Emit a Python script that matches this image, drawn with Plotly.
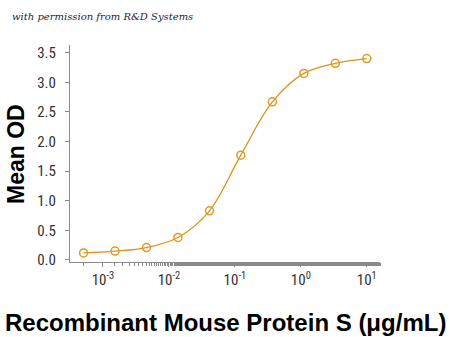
import plotly.graph_objects as go

conc = [0.000508, 0.00152, 0.00457, 0.0137, 0.0412, 0.123, 0.370, 1.11, 3.33, 10.0]
od = [0.12, 0.15, 0.21, 0.38, 0.83, 1.77, 2.67, 3.15, 3.32, 3.40]
x_tickvals = [1e-3, 1e-2, 1e-1, 1, 10]
x_ticktext = ["10<sup>-3</sup>", "10<sup>-2</sup>", "10<sup>-1</sup>", "10<sup>0</sup>", "10<sup>1</sup>"]
y_tickvals = [0, 0.5, 1.0, 1.5, 2.0, 2.5, 3.0, 3.5]
y_ticktext = ["0.0", "0.5", "1.0", "1.5", "2.0", "2.5", "3.0", "3.5"]

orange = "#E39A22"
tickfont = dict(family="Roboto Condensed, Liberation Sans Narrow, Arial Narrow, Roboto, sans-serif", size=15, color="#333333")

fig = go.Figure()
fig.add_trace(go.Scatter(
    x=conc, y=od, mode="lines", line=dict(color="#D99420", width=1.3, shape="spline", smoothing=1.0),
    hoverinfo="skip", showlegend=False))
fig.add_trace(go.Scatter(
    x=conc, y=od, mode="markers",
    marker=dict(symbol="circle-open", size=8, color=orange, line=dict(width=1.5, color=orange)),
    showlegend=False))

fig.update_layout(
    width=450, height=337,
    margin=dict(l=70, r=70, t=45, b=75),
    plot_bgcolor="white", paper_bgcolor="white",
    xaxis=dict(type="log", range=[-3.5, 1.2], showgrid=False, zeroline=False,
               showline=True, linecolor="#8a8a8a", linewidth=1.2,
               tickvals=x_tickvals, ticktext=x_ticktext, ticks="outside", ticklen=4,
               tickcolor="#8a8a8a", tickfont=tickfont,
               minor=dict(ticks="outside", ticklen=3, tickcolor="#8a8a8a", showgrid=False)),
    yaxis=dict(range=[-0.034, 3.63], showgrid=False, zeroline=False,
               showline=True, linecolor="#8a8a8a", linewidth=1.2,
               tickvals=y_tickvals, ticktext=y_ticktext, ticks="outside", ticklen=4,
               tickcolor="#8a8a8a", tickfont=tickfont, ticklabelstandoff=6),
)

plot_w = 450 - 140
plot_h = 337 - 120
def px(xp):
    return (xp - 70) / plot_w
def py(yp):
    return (337 - 75 - yp) / plot_h

fig.add_annotation(text="<i>with permission from R&amp;D Systems</i>", x=px(10), y=py(17),
                   xref="paper", yref="paper", showarrow=False,
                   font=dict(family="DejaVu Serif, serif", size=10, color="#1c1c3c"),
                   xanchor="left", yanchor="middle")
fig.add_annotation(text="<b>Mean OD</b>", x=px(16), y=py(154), xref="paper", yref="paper",
                   showarrow=False, textangle=-90,
                   font=dict(family="Liberation Sans, Arial, sans-serif", size=23, color="black"),
                   xanchor="center", yanchor="middle")
fig.add_annotation(text="<b>Recombinant Mouse Protein S (μg/mL)</b>", x=px(225), y=py(322),
                   xref="paper", yref="paper", showarrow=False,
                   font=dict(family="Liberation Sans, Arial, sans-serif", size=24, color="black"),
                   xanchor="center", yanchor="middle")

fig.write_html("out.html")
